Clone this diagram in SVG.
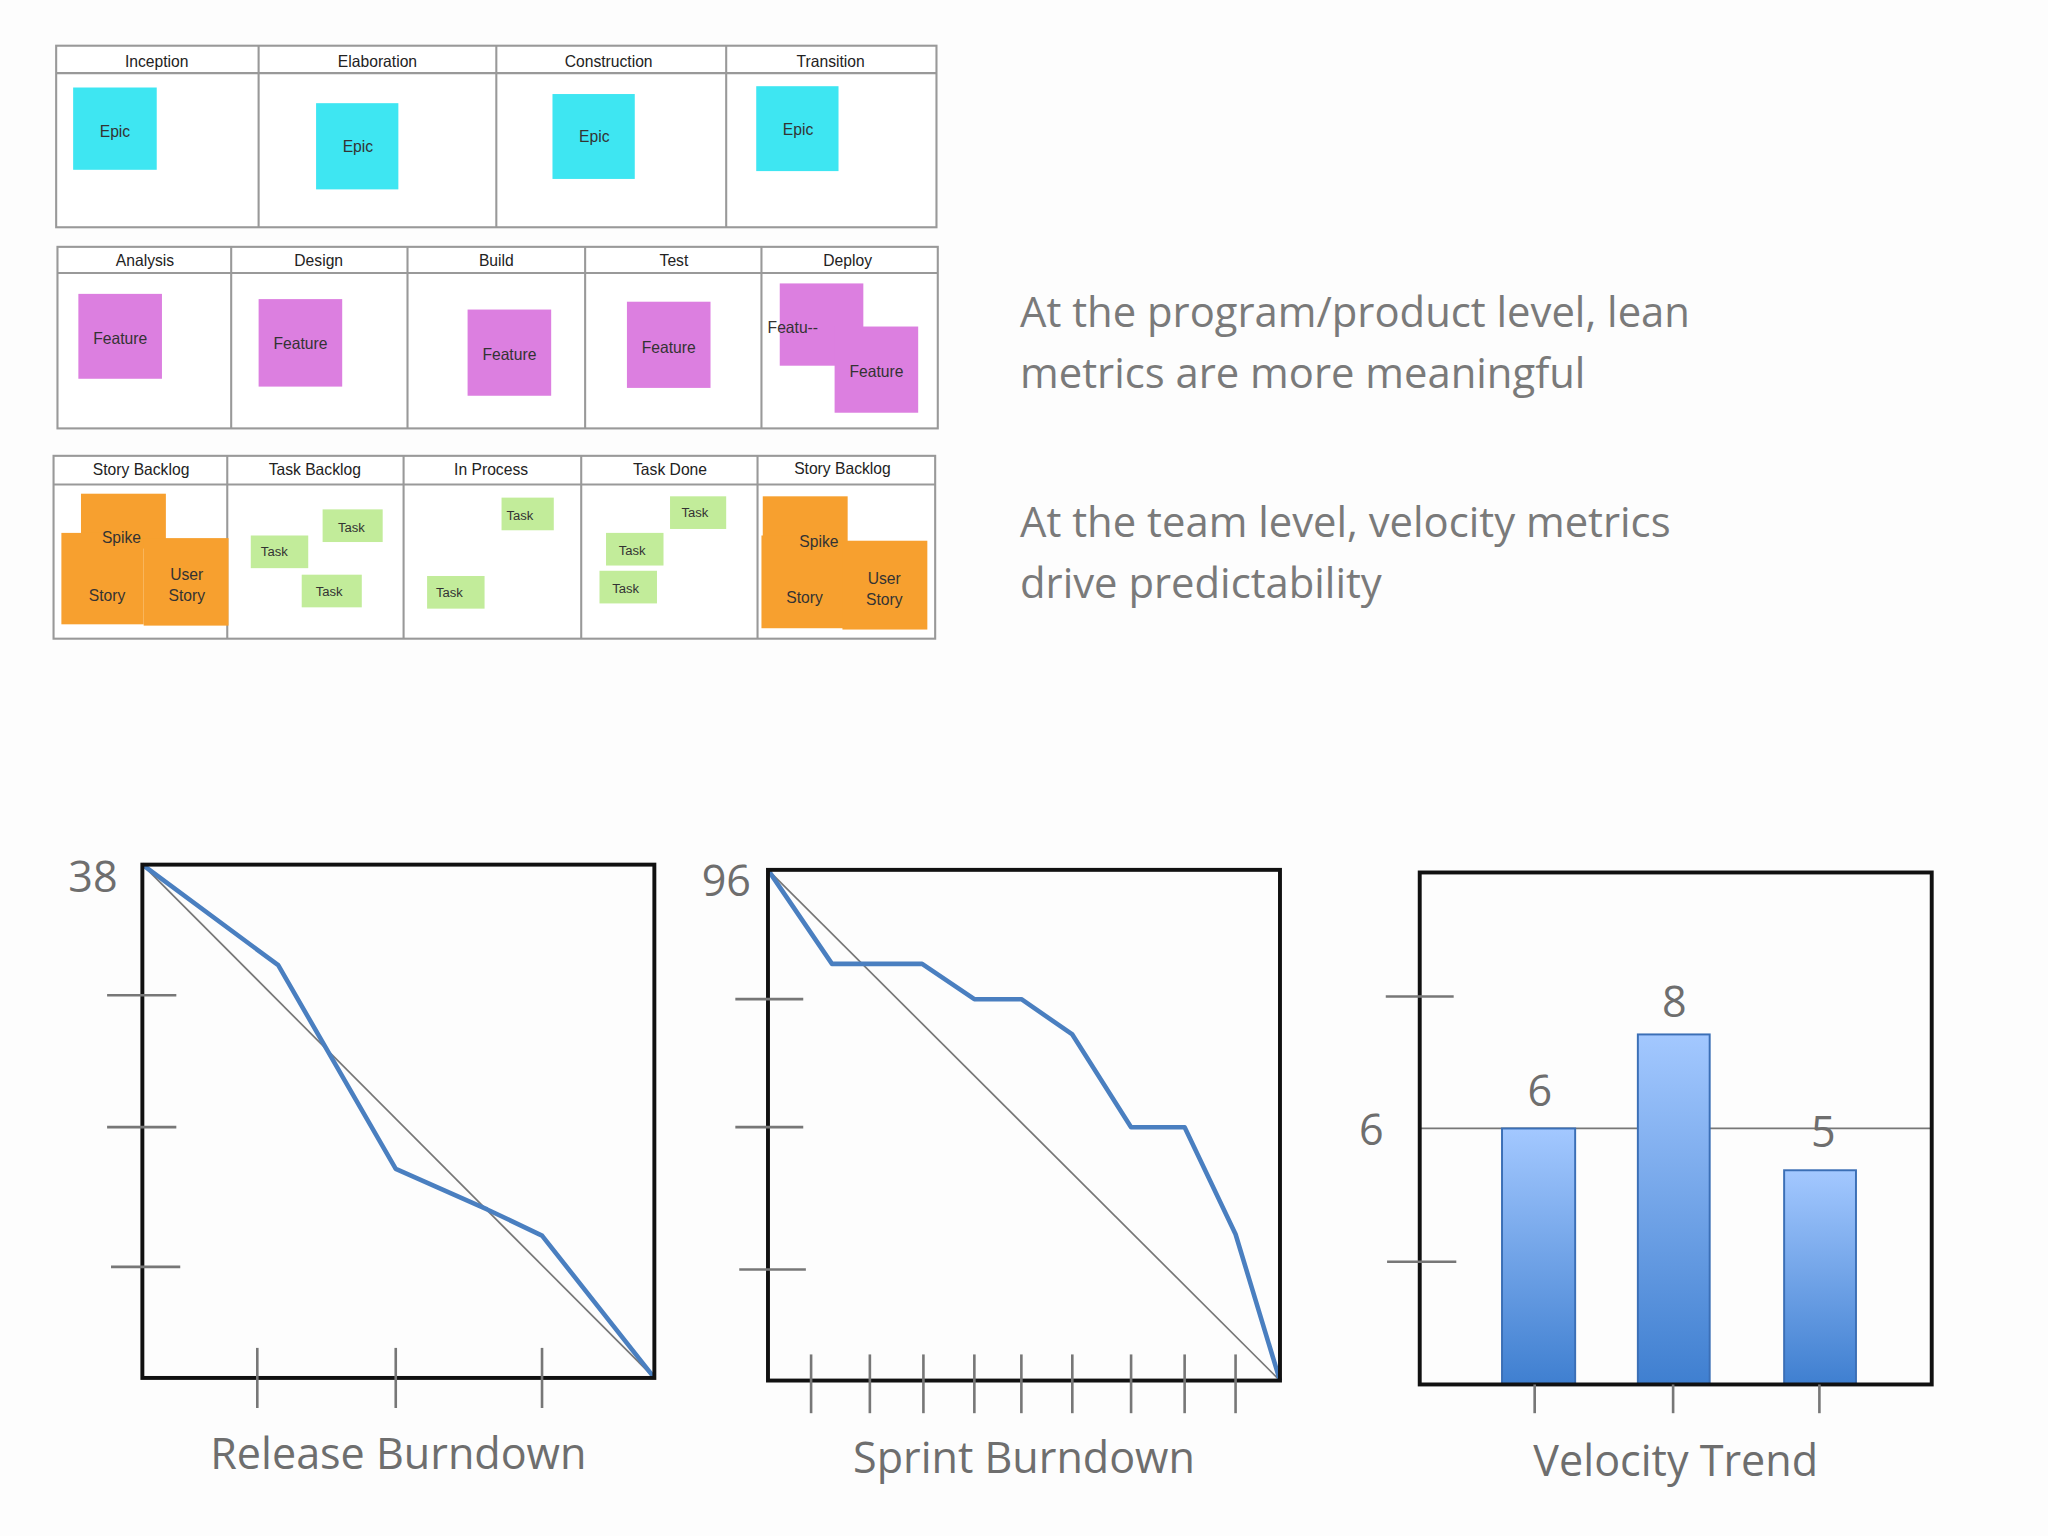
<svg xmlns="http://www.w3.org/2000/svg" width="2048" height="1536" viewBox="0 0 2048 1536">
<defs>
<linearGradient id="bar" x1="0" y1="0" x2="0" y2="1"><stop offset="0" stop-color="#a3c8ff"/><stop offset="1" stop-color="#3f7fd0"/></linearGradient>
<style>
.tbl{fill:#fff;stroke:#999;stroke-width:1.6}
.hd{font-family:"Liberation Sans",Arial,sans-serif;font-size:12px;fill:#222;text-anchor:middle}
.epic{fill:#3ee6f2}
.feat{fill:#dc7fe0}
.or{fill:#f7a02f}
.tk{fill:#c2ec9a}
.nt{font-family:"Liberation Sans",Arial,sans-serif;font-size:12px;fill:#333;text-anchor:middle}
.sm{font-family:"Liberation Sans",Arial,sans-serif;font-size:10px;fill:#333;text-anchor:middle}
.big{font-family:"Open Sans","Liberation Sans",sans-serif;font-size:32px;fill:#7a7a7a}
.ax{font-family:"Open Sans","Liberation Sans",sans-serif;font-size:33px;fill:#6e6e6e}
.box{fill:none;stroke:#111;stroke-width:3}
.tick{stroke:#777;stroke-width:2}
.diag{stroke:#777;stroke-width:1.3}
.blue{fill:none;stroke:#4a7fc0;stroke-width:3.5;stroke-linejoin:round}
</style>
</defs>
<rect width="2048" height="1536" fill="#fdfdfd"/>
<g transform="scale(1.3061)">
<g id="phases">
<rect class="tbl" x="43" y="35" width="674" height="139"/>
<line class="tbl" x1="43" y1="56" x2="717" y2="56"/>
<line class="tbl" x1="198" y1="35" x2="198" y2="174"/><line class="tbl" x1="380" y1="35" x2="380" y2="174"/><line class="tbl" x1="556" y1="35" x2="556" y2="174"/>
<text class="hd" x="120" y="51">Inception</text><text class="hd" x="289" y="51">Elaboration</text><text class="hd" x="466" y="51">Construction</text><text class="hd" x="636" y="51">Transition</text>
<rect class="epic" x="56" y="67" width="64" height="63"/><text class="nt" x="88" y="105">Epic</text>
<rect class="epic" x="242" y="79" width="63" height="66"/><text class="nt" x="274" y="116">Epic</text>
<rect class="epic" x="423" y="72" width="63" height="65"/><text class="nt" x="455" y="109">Epic</text>
<rect class="epic" x="579" y="66" width="63" height="65"/><text class="nt" x="611" y="103">Epic</text>
</g>
<g id="flow">
<rect class="tbl" x="44" y="189" width="674" height="139"/>
<line class="tbl" x1="44" y1="209" x2="718" y2="209"/>
<line class="tbl" x1="177" y1="189" x2="177" y2="328"/><line class="tbl" x1="312" y1="189" x2="312" y2="328"/><line class="tbl" x1="448" y1="189" x2="448" y2="328"/><line class="tbl" x1="583" y1="189" x2="583" y2="328"/>
<text class="hd" x="111" y="204">Analysis</text><text class="hd" x="244" y="204">Design</text><text class="hd" x="380" y="204">Build</text><text class="hd" x="516" y="204">Test</text><text class="hd" x="649" y="204">Deploy</text>
<rect class="feat" x="60" y="225" width="64" height="65"/><text class="nt" x="92" y="263">Feature</text>
<rect class="feat" x="198" y="229" width="64" height="67"/><text class="nt" x="230" y="267">Feature</text>
<rect class="feat" x="358" y="237" width="64" height="66"/><text class="nt" x="390" y="276">Feature</text>
<rect class="feat" x="480" y="231" width="64" height="66"/><text class="nt" x="512" y="270">Feature</text>
<rect class="feat" x="597" y="217" width="64" height="63"/>
<rect class="feat" x="639" y="250" width="64" height="66"/><text class="nt" x="671" y="289">Feature</text>
<text class="nt" x="607" y="255" text-anchor="start">Featu--</text>
</g>
<g id="team">
<rect class="tbl" x="41" y="349" width="675" height="140"/>
<line class="tbl" x1="41" y1="371" x2="716" y2="371"/>
<line class="tbl" x1="174" y1="349" x2="174" y2="489"/><line class="tbl" x1="309" y1="349" x2="309" y2="489"/><line class="tbl" x1="445" y1="349" x2="445" y2="489"/><line class="tbl" x1="580" y1="349" x2="580" y2="489"/>
<text class="hd" x="108" y="364">Story Backlog</text><text class="hd" x="241" y="364">Task Backlog</text><text class="hd" x="376" y="364">In Process</text><text class="hd" x="513" y="364">Task Done</text><text class="hd" x="645" y="363">Story Backlog</text>
<rect class="or" x="62" y="378" width="65" height="42"/><rect class="or" x="47" y="408" width="63" height="70"/><rect class="or" x="110" y="412" width="65" height="67"/>
<text class="nt" x="93" y="416">Spike</text><text class="nt" x="82" y="460">Story</text><text class="nt" x="143" y="444">User</text><text class="nt" x="143" y="460">Story</text>
<rect class="or" x="584" y="380" width="65" height="42"/><rect class="or" x="583" y="410" width="63" height="71"/><rect class="or" x="645" y="414" width="65" height="68"/>
<text class="nt" x="627" y="419">Spike</text><text class="nt" x="616" y="462">Story</text><text class="nt" x="677" y="447">User</text><text class="nt" x="677" y="463">Story</text>
<rect class="tk" x="247" y="390" width="46" height="25"/><text class="sm" x="269" y="407">Task</text>
<rect class="tk" x="192" y="410" width="44" height="25"/><text class="sm" x="210" y="426">Task</text>
<rect class="tk" x="231" y="440" width="46" height="25"/><text class="sm" x="252" y="456">Task</text>
<rect class="tk" x="384" y="381" width="40" height="25"/><text class="sm" x="398" y="398">Task</text>
<rect class="tk" x="327" y="441" width="44" height="25"/><text class="sm" x="344" y="457">Task</text>
<rect class="tk" x="513" y="380" width="43" height="25"/><text class="sm" x="532" y="396">Task</text>
<rect class="tk" x="464" y="408" width="44" height="25"/><text class="sm" x="484" y="425">Task</text>
<rect class="tk" x="459" y="437" width="44" height="25"/><text class="sm" x="479" y="454">Task</text>
</g>
<g id="text-program"><text class="big" x="781" y="250">At the program/product level, lean</text><text class="big" x="781" y="297">metrics are more meaningful</text></g>
<g id="text-team"><text class="big" x="781" y="411">At the team level, velocity metrics</text><text class="big" x="781" y="458">drive predictability</text></g>
<g id="release">
<line class="diag" x1="109" y1="662" x2="501" y2="1055"/>
<polyline class="blue" points="109,662 213,739 303,895 373,926 415,946 501,1055"/>
<rect class="box" x="109" y="662" width="392" height="393"/>
<line class="tick" x1="82" y1="762" x2="135" y2="762"/><line class="tick" x1="82" y1="863" x2="135" y2="863"/><line class="tick" x1="85" y1="970" x2="138" y2="970"/>
<line class="tick" x1="197" y1="1032" x2="197" y2="1078"/><line class="tick" x1="303" y1="1032" x2="303" y2="1078"/><line class="tick" x1="415" y1="1032" x2="415" y2="1078"/>
<text class="ax" x="90" y="683" text-anchor="end">38</text>
<text class="ax" x="305" y="1125" text-anchor="middle">Release Burndown</text>
</g>
<g id="sprint">
<line class="diag" x1="588" y1="666" x2="980" y2="1057"/>
<polyline class="blue" points="588,666 637,738 706,738 746,765 782,765 821,792 866,863 907,863 946,945 980,1057"/>
<rect class="box" x="588" y="666" width="392" height="391"/>
<line class="tick" x1="563" y1="765" x2="615" y2="765"/><line class="tick" x1="563" y1="863" x2="615" y2="863"/><line class="tick" x1="566" y1="972" x2="617" y2="972"/>
<g class="tick"><line x1="621" y1="1037" x2="621" y2="1082"/><line x1="666" y1="1037" x2="666" y2="1082"/><line x1="707" y1="1037" x2="707" y2="1082"/><line x1="746" y1="1037" x2="746" y2="1082"/><line x1="782" y1="1037" x2="782" y2="1082"/><line x1="821" y1="1037" x2="821" y2="1082"/><line x1="866" y1="1037" x2="866" y2="1082"/><line x1="907" y1="1037" x2="907" y2="1082"/><line x1="946" y1="1037" x2="946" y2="1082"/></g>
<text class="ax" x="575" y="686" text-anchor="end">96</text>
<text class="ax" x="784" y="1128" text-anchor="middle">Sprint Burndown</text>
</g>
<g id="velocity">
<line class="diag" x1="1087" y1="864" x2="1479" y2="864" stroke-width="2"/>
<g stroke="#3b6fb6" stroke-width="1.5" fill="url(#bar)">
<rect x="1150" y="864" width="56" height="196"/><rect x="1254" y="792" width="55" height="268"/><rect x="1366" y="896" width="55" height="164"/>
</g>
<rect class="box" x="1087" y="668" width="392" height="392"/>
<line class="tick" x1="1061" y1="763" x2="1113" y2="763"/><line class="tick" x1="1062" y1="966" x2="1115" y2="966"/>
<line class="tick" x1="1175" y1="1060" x2="1175" y2="1082"/><line class="tick" x1="1281" y1="1060" x2="1281" y2="1082"/><line class="tick" x1="1393" y1="1060" x2="1393" y2="1082"/>
<text class="ax" x="1050" y="877" text-anchor="middle">6</text>
<text class="ax" x="1179" y="847" text-anchor="middle">6</text><text class="ax" x="1282" y="779" text-anchor="middle">8</text><text class="ax" x="1396" y="878" text-anchor="middle">5</text>
<text class="ax" x="1283" y="1130" text-anchor="middle">Velocity Trend</text>
</g>
</g>
</svg>
